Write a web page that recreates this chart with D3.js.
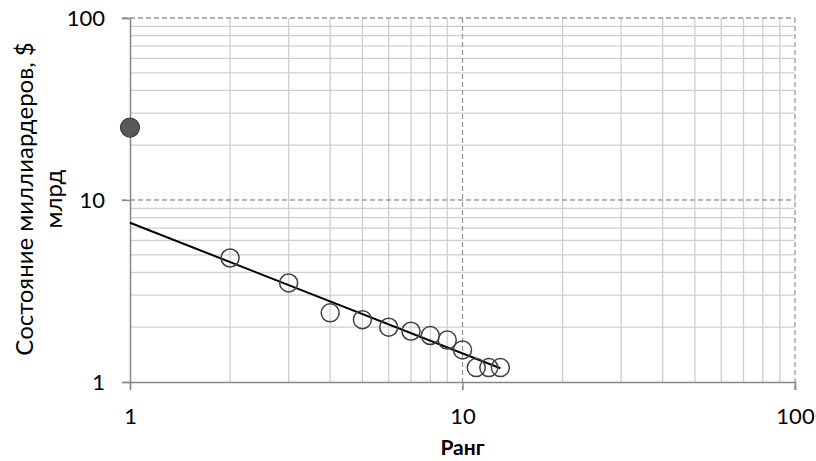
<!DOCTYPE html>
<html lang="ru">
<head>
<meta charset="UTF-8">
<title>Ранг</title>
<script src="https://cdn.jsdelivr.net/npm/d3@7"></script>
<style>
  body { margin: 0; background: #fff; }
  text { font-family: Lato, "Open Sans", sans-serif; fill: #000; }
</style>
</head>
<body>
<svg id="chart" width="816" height="461"></svg>
<script>
// data
const leaderRank = [1];
const leaderWealth = [25];
const ranks = [2, 3, 4, 5, 6, 7, 8, 9, 10, 11, 12, 13];
const wealth = [4.8, 3.5, 2.4, 2.2, 2.0, 1.9, 1.8, 1.7, 1.5, 1.2, 1.2, 1.2];
const trendRank = [1, 13];
const trendWealth = [7.5, 1.19];
const tickValues = [1, 10, 100];
const minorValues = [2, 3, 4, 5, 6, 7, 8, 9, 20, 30, 40, 50, 60, 70, 80, 90];

const W = 816, H = 461;
const margin = { top: 18, right: 21, bottom: 79, left: 130 };
const width = W - margin.left - margin.right;
const height = H - margin.top - margin.bottom;

const svg = d3.select("#chart");
const g = svg.append("g").attr("transform", `translate(${margin.left},${margin.top})`);

const x = d3.scaleLog().domain([1, 100]).range([0, width]);
const y = d3.scaleLog().domain([1, 100]).range([height, 0]);

// minor grid
g.append("g").selectAll("line")
  .data(minorValues).join("line")
  .attr("x1", d => x(d)).attr("x2", d => x(d))
  .attr("y1", 0).attr("y2", height)
  .attr("stroke", "#cfcfcf").attr("stroke-width", 1.3);
g.append("g").selectAll("line")
  .data(minorValues).join("line")
  .attr("y1", d => y(d)).attr("y2", d => y(d))
  .attr("x1", 0).attr("x2", width)
  .attr("stroke", "#cfcfcf").attr("stroke-width", 1.3);

// major dashed grid (10 and 100)
g.append("g").selectAll("line")
  .data([10, 100]).join("line")
  .attr("x1", d => x(d)).attr("x2", d => x(d))
  .attr("y1", 0).attr("y2", height + 8)
  .attr("stroke", "#9a9a9a").attr("stroke-width", 1.3)
  .attr("stroke-dasharray", "5,3");
g.append("g").selectAll("line")
  .data([10, 100]).join("line")
  .attr("y1", d => y(d)).attr("y2", d => y(d))
  .attr("x1", -8).attr("x2", width)
  .attr("stroke", "#9a9a9a").attr("stroke-width", 1.3)
  .attr("stroke-dasharray", "5,3");

// axes
const xAxis = g.append("g")
  .attr("transform", `translate(0,${height})`)
  .call(d3.axisBottom(x).tickValues(tickValues).tickFormat(d3.format("d")).tickSize(8).tickPadding(18));
const yAxis = g.append("g")
  .call(d3.axisLeft(y).tickValues(tickValues).tickFormat(d3.format("d")).tickSize(8).tickPadding(17));
[xAxis, yAxis].forEach(a => {
  a.select(".domain").attr("stroke", "#868686").attr("stroke-width", 1.5);
  a.selectAll(".tick line").attr("stroke", "#868686").attr("stroke-width", 1.3);
  a.selectAll("text").style("font-size", "22px").style("font-family", "Lato, sans-serif");
});
yAxis.selectAll(".tick text").attr("dy", "0.36em");

// trend line
g.append("path")
  .datum(trendRank.map((r, i) => [r, trendWealth[i]]))
  .attr("d", d3.line().x(d => x(d[0])).y(d => y(d[1])))
  .attr("fill", "none").attr("stroke", "#000").attr("stroke-width", 2);

// open circles
g.append("g").selectAll("circle")
  .data(ranks.map((r, i) => [r, wealth[i]])).join("circle")
  .attr("cx", d => x(d[0])).attr("cy", d => y(d[1])).attr("r", 9)
  .attr("fill", "none").attr("stroke", "#404040").attr("stroke-width", 1.5);

// leader
g.append("g").selectAll("circle")
  .data(leaderRank.map((r, i) => [r, leaderWealth[i]])).join("circle")
  .attr("cx", d => x(d[0])).attr("cy", d => y(d[1])).attr("r", 9.5)
  .attr("fill", "#595959").attr("stroke", "#404040").attr("stroke-width", 1.2);

// axis titles
svg.append("text")
  .attr("x", margin.left + x(10)).attr("y", 455)
  .attr("text-anchor", "middle")
  .style("font-size", "21px").style("font-weight", "bold")
  .text("Ранг");

const yt = svg.append("text")
  .attr("transform", "translate(33,199) rotate(-90)")
  .attr("text-anchor", "middle")
  .style("font-size", "24px");
yt.append("tspan").attr("x", 0).attr("y", 0).text("Состояние миллиардеров, $");
yt.append("tspan").attr("x", 0).attr("y", 29).text("млрд");
</script>
</body>
</html>
